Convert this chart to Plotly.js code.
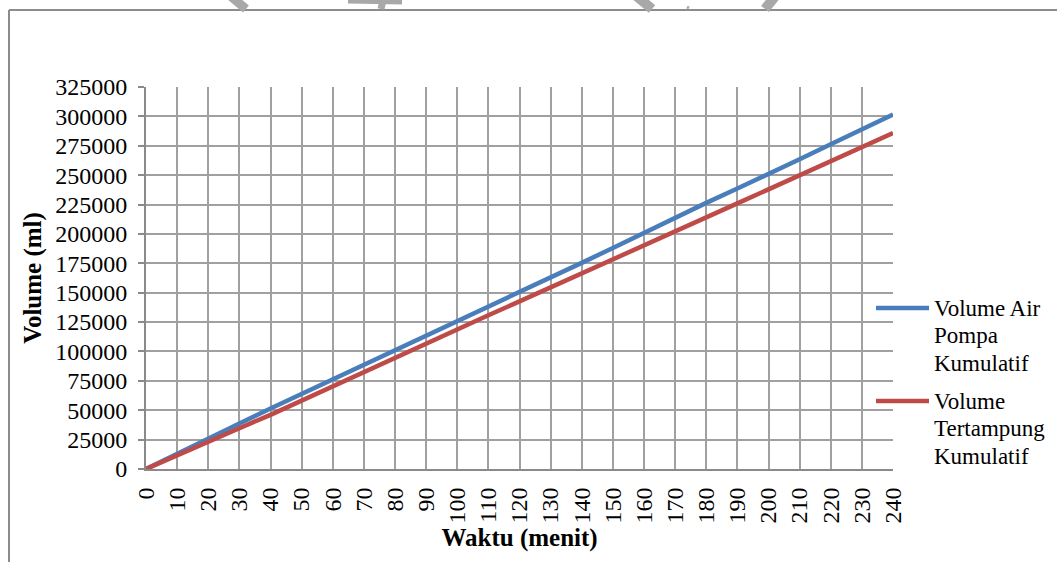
<!DOCTYPE html>
<html>
<head>
<meta charset="utf-8">
<script src="https://cdn.plot.ly/plotly-3.0.1.min.js"></script>
<style>
  html, body { margin: 0; padding: 0; background: #fff; }
  #chart { width: 1057px; height: 562px; }
  /* every chart label uses the serif face */
  #chart svg text { font-family: 'Liberation Serif', serif !important; }
</style>
</head>
<body>
<div id="chart"></div>
<script>
// Elapsed time (minutes)
const waktu = [0, 10, 20, 30, 40, 50, 60, 70, 80, 90, 100, 110, 120,
               130, 140, 150, 160, 170, 180, 190, 200, 210, 220, 230, 240];

// Cumulative pumped water volume (ml)
const volumePompa = [0, 12600, 26200, 38800, 51500, 63800, 76400, 89000, 101300,
                     113600, 125700, 137800, 150000, 162700, 175400, 188100, 201000,
                     213800, 226400, 238600, 250800, 263500, 276300, 288900, 301500];

// Cumulative collected volume (ml)
const volumeTertampung = [0, 11800, 23300, 34700, 46100, 58300, 70500, 82800, 94500,
                          106600, 119000, 130800, 142600, 154600, 166700, 178900, 191000,
                          202800, 214200, 226000, 237900, 249900, 262000, 273900, 285900];

const seriesNames = [
  ['Volume Air', 'Pompa', 'Kumulatif'],
  ['Volume', 'Tertampung', 'Kumulatif']
];
const seriesColors = ['#4a7ebb', '#be4b48'];

const yTicks = [];
for (let v = 0; v <= 325000; v += 25000) yTicks.push(v);

const W = 1057, H = 562;
const M = { l: 146, r: 164, t: 87, b: 93 };
const plotW = W - M.l - M.r, plotH = H - M.t - M.b;
// pixel position on the page -> paper fraction
const px = x => (x - M.l) / plotW;
const py = y => (H - M.b - y) / plotH;

const serif = "'Liberation Serif', serif";

const traces = [volumePompa, volumeTertampung].map((vals, i) => ({
  x: waktu,
  y: vals,
  type: 'scatter',
  mode: 'lines',
  name: seriesNames[i].join(' '),
  line: { color: seriesColors[i], width: 4.5 },
  showlegend: false,
  hoverinfo: 'x+y'
}));

const shapes = [];
const annotations = [];

// outer chart frame (left and top edges)
shapes.push({ type: 'line', xref: 'paper', yref: 'paper',
  x0: px(9), y0: py(10), x1: px(9), y1: py(566),
  line: { color: '#8c8c8c', width: 2 } });
shapes.push({ type: 'line', xref: 'paper', yref: 'paper',
  x0: px(9), y0: py(10), x1: px(1062), y1: py(10),
  line: { color: '#8c8c8c', width: 2 } });

// faint strokes above the frame
[
  [228, -6, 246, 9, 9], [348, 1, 402, 2, 5], [384, -4, 381, 9, 7],
  [634, -6, 652, 9, 10], [687, 7, 689, 8, 3], [777, -6, 765, 9, 10]
].forEach(([x0, y0, x1, y1, w]) => shapes.push({
  type: 'line', xref: 'paper', yref: 'paper',
  x0: px(x0), y0: py(y0), x1: px(x1), y1: py(y1),
  line: { color: '#a8a8a8', width: w }
}));

// legend: line sample + stacked label lines
const legendTop = [308, 401];
seriesNames.forEach((lines, i) => {
  shapes.push({ type: 'line', xref: 'paper', yref: 'paper',
    x0: px(876), y0: py(legendTop[i]), x1: px(929), y1: py(legendTop[i]),
    line: { color: seriesColors[i], width: 4.5 } });
  lines.forEach((t, k) => annotations.push({
    xref: 'paper', yref: 'paper', x: px(932), y: py(legendTop[i] + k * 27.5),
    xanchor: 'left', yanchor: 'middle', showarrow: false, text: t,
    font: { family: serif, size: 23, color: '#000' }
  }));
});

const layout = {
  width: W, height: H,
  margin: M,
  font: { family: serif, color: '#000' },
  paper_bgcolor: '#fff',
  plot_bgcolor: '#fff',
  showlegend: false,
  xaxis: {
    range: [0, 240],
    tickmode: 'array',
    tickvals: waktu,
    ticktext: waktu.map(String),
    tickangle: -90,
    ticks: '',
    ticklabelstandoff: 7,
    showgrid: true,
    gridcolor: '#a0a0a0',
    gridwidth: 1.5,
    showline: true,
    linecolor: '#8a8a8a',
    linewidth: 2,
    zeroline: false,
    tickfont: { family: serif, size: 24, color: '#000' },
    title: { text: '<b>Waktu (menit)</b>', font: { family: serif, size: 25, color: '#000' }, standoff: 1 },
    automargin: false,
    fixedrange: true
  },
  yaxis: {
    range: [0, 325000],
    tickmode: 'array',
    tickvals: yTicks,
    ticktext: yTicks.map(String),
    ticks: 'outside',
    ticklen: 6,
    tickcolor: '#8a8a8a',
    tickwidth: 1.5,
    ticklabelstandoff: 6,
    showgrid: true,
    gridcolor: '#a0a0a0',
    gridwidth: 1.5,
    showline: true,
    linecolor: '#8a8a8a',
    linewidth: 2,
    zeroline: false,
    tickfont: { family: serif, size: 24, color: '#000' },
    title: { text: '<b>Volume (ml)</b>', font: { family: serif, size: 25, color: '#000' }, standoff: 6 },
    automargin: false,
    fixedrange: true
  },
  shapes: shapes,
  annotations: annotations
};

Plotly.newPlot('chart', traces, layout, { displayModeBar: false });
</script>
</body>
</html>
